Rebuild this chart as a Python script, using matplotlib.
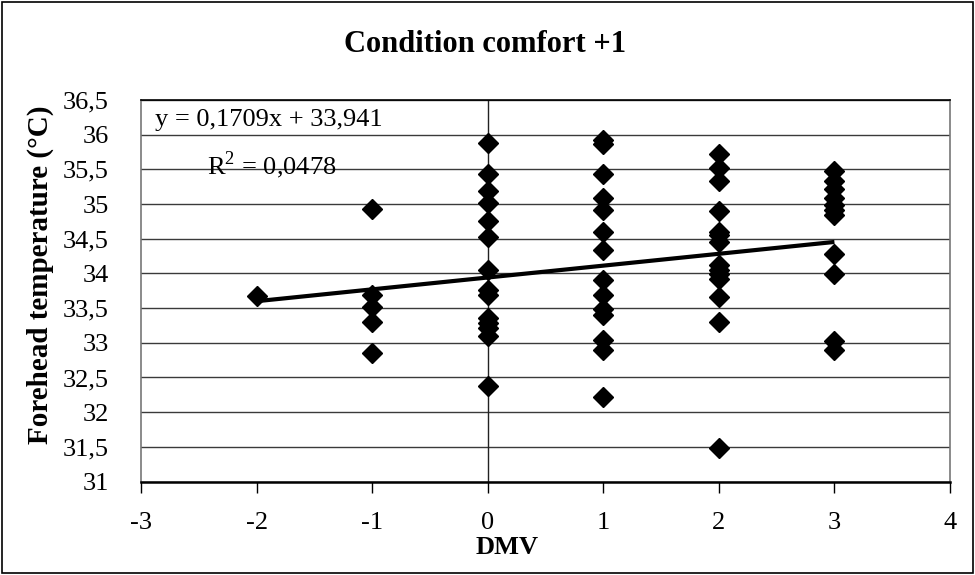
import matplotlib
matplotlib.use("Agg")
import matplotlib.pyplot as plt
import numpy as np
from matplotlib.patches import Rectangle

plt.rcParams['font.family'] = ['Liberation Serif', 'DejaVu Serif']
plt.rcParams['mathtext.fontset'] = 'custom'
plt.rcParams['mathtext.rm'] = 'Liberation Serif'

# Data (DMV vote -> forehead temperature)
dmv_m2 = [-2]
temp_m2 = [33.68]
dmv_m1 = [-1] * 5
temp_m1 = [34.93, 33.69, 33.52, 33.30, 32.85]
dmv_0 = [0] * 14
temp_0 = [35.88, 35.43, 35.19, 35.01, 34.75, 34.52, 34.05, 33.76, 33.69,
          33.35, 33.28, 33.21, 33.10, 32.37]
dmv_1 = [1] * 14
temp_1 = [35.93, 35.87, 35.43, 35.08, 34.92, 34.59, 34.34, 33.90, 33.69,
          33.48, 33.40, 33.04, 32.89, 32.22]
dmv_2 = [2] * 14
temp_2 = [35.72, 35.52, 35.33, 34.90, 34.60, 34.55, 34.46, 34.12, 34.05,
          33.99, 33.92, 33.66, 33.30, 31.48]
dmv_3 = [3] * 11
temp_3 = [35.47, 35.33, 35.21, 35.09, 34.99, 34.91, 34.84, 34.28, 33.99,
          33.03, 32.90]

slope = 0.1709
intercept = 33.941
trend_x = [-2, 3]

x_ticks = [-3, -2, -1, 0, 1, 2, 3, 4]
y_ticks = [31, 31.5, 32, 32.5, 33, 33.5, 34, 34.5, 35, 35.5, 36, 36.5]
y_tick_labels = ['31', '31,5', '32', '32,5', '33', '33,5', '34', '34,5',
                 '35', '35,5', '36', '36,5']

x_all = dmv_m2 + dmv_m1 + dmv_0 + dmv_1 + dmv_2 + dmv_3
y_all = temp_m2 + temp_m1 + temp_0 + temp_1 + temp_2 + temp_3

fig = plt.figure(figsize=(9.75, 5.75), dpi=100)
ax = fig.add_axes([141 / 975, 1 - 481.5 / 575, (950 - 141) / 975, (481.5 - 100) / 575])

ax.set_xlim(-3, 4)
ax.set_ylim(31, 36.5)

for yv in y_ticks:
    ax.axhline(yv, color='#3a3a3a', lw=1.0, zorder=1)
ax.axvline(0, color='#222222', lw=1.0, zorder=1)

ax.plot(x_all, y_all, linestyle='none', marker='D', ms=10, color='black', zorder=3)

tx = np.array(trend_x, dtype=float)
ax.plot(tx, slope * tx + intercept, color='black', lw=3, zorder=4, solid_capstyle='butt')

ax.set_xticks(x_ticks)
ax.set_xticklabels([str(v) for v in x_ticks])
ax.set_yticks(y_ticks)
ax.set_yticklabels(y_tick_labels)
ax.tick_params(axis='x', direction='out', length=8, width=1, labelsize=19, pad=14)
ax.tick_params(axis='y', length=0, labelsize=19, pad=23)

for s in ['left', 'right']:
    ax.spines[s].set_color('#777777')
    ax.spines[s].set_linewidth(1.2)
ax.spines['top'].set_color('black')
ax.spines['top'].set_linewidth(1.2)
ax.spines['bottom'].set_color('black')
ax.spines['bottom'].set_linewidth(1.8)

ax.text(-2.88, 36.21, 'y = 0,1709x + 33,941', fontsize=19, va='center', ha='left', zorder=5)
ax.text(-2.43, 35.56, 'R$^2$ = 0,0478', fontsize=19, va='center', ha='left', zorder=5)

fig.text(485 / 975, 1 - 45 / 575, 'Condition comfort +1', fontsize=22, fontweight='bold',
         ha='center', va='center')
fig.text(507 / 975, 1 - 547 / 575, 'DMV', fontsize=19, fontweight='bold',
         ha='center', va='center')
fig.text(40 / 975, 1 - 275 / 575, 'Forehead temperature (°C)', fontsize=21,
         fontweight='bold', rotation=90, ha='center', va='center')

fig.patches.append(Rectangle((2 / 975, 2 / 575), 971 / 975, 571 / 575,
                             transform=fig.transFigure, fill=False,
                             edgecolor='black', lw=1.2))

fig.savefig('out.png', dpi=100)
